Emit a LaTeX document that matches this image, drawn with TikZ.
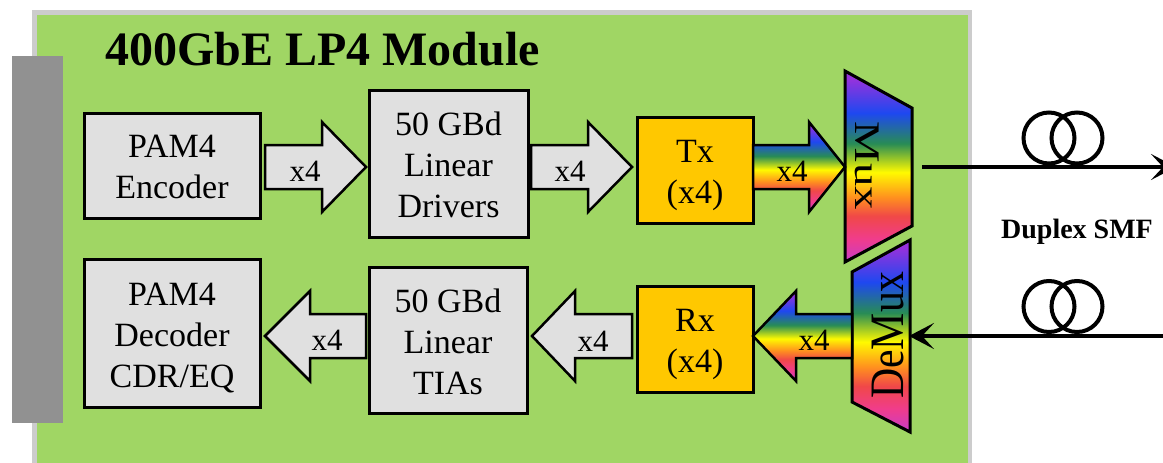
\documentclass[tikz,border=0pt]{standalone}
\usepackage{fontspec}
\setmainfont{Liberation Serif}
\usepackage{graphicx}
\usetikzlibrary{arrows.meta,calc}

\definecolor{modgreen}{RGB}{160,214,100}
\definecolor{modedge}{RGB}{204,204,204}
\definecolor{bargray}{RGB}{145,145,145}
\definecolor{boxgray}{RGB}{224,224,224}
\definecolor{txgold}{RGB}{255,200,0}
\definecolor{rbP}{RGB}{150,50,220}
\definecolor{rbB}{RGB}{30,72,240}
\definecolor{rbG}{RGB}{40,140,85}
\definecolor{rbY}{RGB}{255,250,0}
\definecolor{rbO}{RGB}{255,145,30}
\definecolor{rbR}{RGB}{240,72,72}
\definecolor{rbK}{RGB}{240,60,140}
\definecolor{rbM}{RGB}{200,60,200}

\pgfdeclareverticalshading{rainbow}{100bp}{color(0bp)=(rbM); color(25bp)=(rbM); color(31bp)=(rbK); color(37bp)=(rbR); color(42bp)=(rbO); color(48.5bp)=(rbY); color(56bp)=(rbG); color(64bp)=(rbB); color(73bp)=(rbP); color(100bp)=(rbP)}

\newcommand{\blockR}[5]{%
  \path[#1] (#2,{#5-22}) -- (#3,{#5-22}) -- (#3,{#5-45}) -- (#4,#5) -- (#3,{#5+45}) -- (#3,{#5+22}) -- (#2,{#5+22}) -- cycle;}

\tikzset{
  box/.style={draw=black, line width=3pt, fill=boxgray, inner sep=0pt},
  goldbox/.style={box, fill=txgold},
  lbl/.style={font=\fontsize{34}{41}\selectfont, align=center, inner sep=0pt},
  xfour/.style={font=\fontsize{31}{36}\selectfont, inner sep=0pt},
  barrow/.style={draw=black, line width=2.5pt, fill=boxgray, line join=miter},
  rarrow/.style={draw=black, line width=2.5pt, shade, shading=rainbow, line join=miter},
  fiber/.style={line width=3.3pt},
  coil/.style={line width=4pt},
  fibertip/.style={-{Stealth[length=25pt,width=26pt,inset=12pt]}}
}

\begin{document}
\begin{tikzpicture}[x=1pt,y=-1pt]
\useasboundingbox (0,0) rectangle (1163,463);
\fill[white] (0,0) rectangle (1163,463);

% module
\draw[line width=4.5pt, draw=modedge, fill=modgreen] (34.5,12.5) rectangle (970,480);
\fill[bargray] (12,56) rectangle (63,423);

\node[anchor=base west, font=\bfseries\fontsize{48}{58}\selectfont, inner sep=0pt] (title) at (105,65) {400GbE LP4 Module};

% boxes
\node[box, minimum width=176pt, minimum height=105pt] (enc) at (172,165.5) {};
\node[box, minimum width=159pt, minimum height=147pt] (drv) at (448.5,163.5) {};
\node[goldbox, minimum width=116pt, minimum height=106pt] (tx) at (695,170) {};
\node[box, minimum width=176pt, minimum height=148pt] (dec) at (172,333) {};
\node[box, minimum width=158pt, minimum height=146pt] (tia) at (448,340) {};
\node[goldbox, minimum width=116pt, minimum height=106pt] (rx) at (695,339) {};

\node[lbl] (enctext) at (172,166.5) {PAM4\\Encoder};
\node[lbl] (drvtext) at (448.5,165) {50 GBd\\Linear\\Drivers};
\node[lbl] (txtext) at (695,175) {Tx\\(x4)};
\node[lbl] (dectext) at (172,338) {PAM4\\Decoder\\CDR/EQ};
\node[lbl] (tiatext) at (448,341.5) {50 GBd\\Linear\\TIAs};
\node[lbl] (rxtext) at (695,344) {Rx\\(x4)};

% mux / demux
\path[draw=black, line width=3pt, line join=miter, shade, shading=rainbow]
  (845,71) -- (912,108) -- (912,226) -- (845,262) -- cycle;
\path[draw=black, line width=3pt, line join=miter, shade, shading=rainbow]
  (852,272) -- (910,240) -- (910,432) -- (852,402) -- cycle;
\node[rotate=-90, font=\fontsize{36}{40}\selectfont, inner sep=0pt] (mux) at (867,166) {\scalebox{1.3}[1]{Mux}};
\node[rotate=90, font=\fontsize{48}{52}\selectfont, inner sep=0pt] (demux) at (888,335) {\scalebox{0.87}[1]{DeMux}};

% block arrows
\blockR{barrow}{265}{322}{366}{167}
\blockR{barrow}{531}{588}{632}{167}
\blockR{rarrow}{753}{809}{845}{167}
\blockR{barrow}{366}{310}{265}{336}
\blockR{barrow}{632}{575}{532}{336}
\blockR{rarrow}{852}{796}{753}{336}

\node[xfour] (a1) at (305,171) {x4};
\node[xfour] (a2) at (570,171) {x4};
\node[xfour] (a3) at (792,171) {x4};
\node[xfour] (b1) at (327,340) {x4};
\node[xfour] (b2) at (593,341) {x4};
\node[xfour] (b3) at (814,340) {x4};

% fibers
\coordinate (txout) at (922,167);
\coordinate (txend) at (1176,167);
\coordinate (rxbeg) at (1176,336);
\coordinate (dmxin) at (909,336);
\draw[fiber, fibertip] (txout) -- (txend);
\draw[fiber, fibertip] (rxbeg) -- (dmxin);
\draw[coil] (1049,138) circle[radius=25.5pt];
\draw[coil] (1077,138) circle[radius=25.5pt];
\draw[coil] (1049,306.5) circle[radius=25.5pt];
\draw[coil] (1077,306.5) circle[radius=25.5pt];

\node[anchor=base, font=\bfseries\fontsize{28}{34}\selectfont, inner sep=0pt] (smf) at (1077,238) {Duplex SMF};
\end{tikzpicture}
\end{document}
